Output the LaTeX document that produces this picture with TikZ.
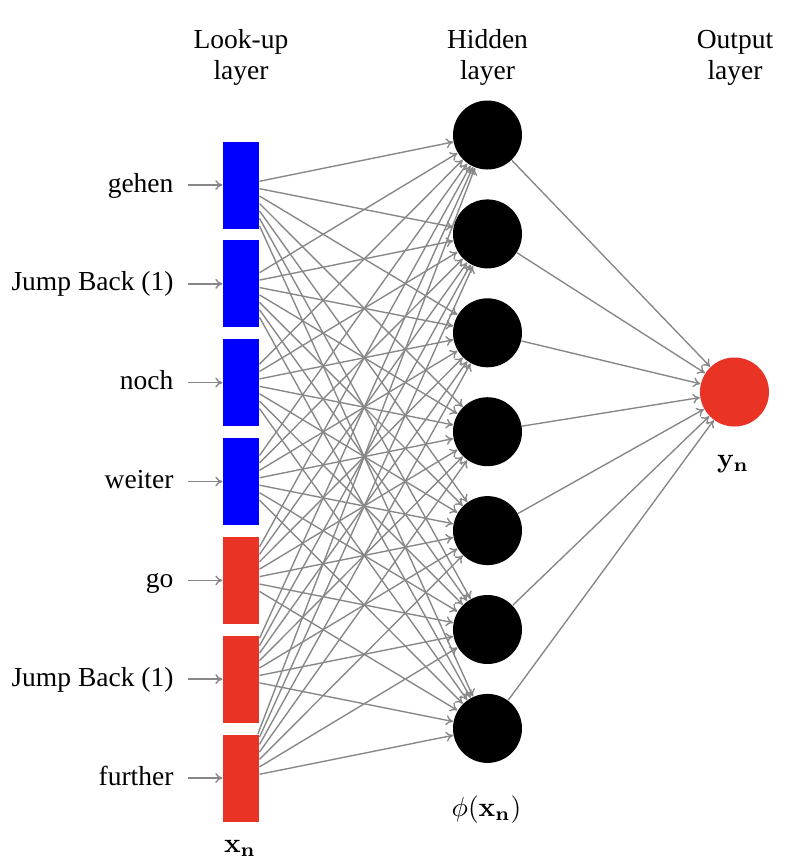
\documentclass[tikz,border=0pt]{standalone}
\usepackage[no-math]{fontspec}
\setmainfont{Liberation Serif}
\usetikzlibrary{arrows.meta}
\definecolor{myred}{RGB}{233,51,36}
\definecolor{myblue}{RGB}{0,0,255}
\definecolor{linegray}{RGB}{135,135,135}
\begin{document}
\begin{tikzpicture}[x=0.36364pt,y=-0.36364pt,
  inp/.style={rectangle,minimum width=13.09pt,minimum height=31.64pt,inner sep=0pt},
  hid/.style={circle,fill=black,minimum size=25.09pt,inner sep=0pt},
  outn/.style={circle,fill=myred,minimum size=25.09pt,inner sep=0pt},
  conn/.style={-{To[length=2.6pt,width=3.6pt]},draw=linegray,line width=0.5pt},
  lbl/.style={anchor=base east,inner sep=0pt},
  ttl/.style={anchor=base,inner sep=0pt},
  font=\fontsize{10}{12}\selectfont]
\useasboundingbox (0,0) rectangle (800,863);
% input layer
\foreach \t [count=\i] in {gehen,Jump Back (1),noch,weiter,go,Jump Back (1),further} {
  \pgfmathsetmacro\yy{185+98.833*(\i-1)}
  \ifnum\i<5 \def\col{myblue}\else\def\col{myred}\fi
  \node[inp,fill=\col] (I-\i) at (241,\yy) {};
  \coordinate (S-\i) at (188,\yy);
  \node[lbl] (L-\i) at (174,\yy+7) {\t};
  \draw[conn] (S-\i) -- (I-\i);
}
% hidden layer
\foreach \i in {1,...,7} {
  \node[hid] (H-\i) at (487.5,{135+98.9*(\i-1)}) {};
}
% output
\node[outn] (O) at (734.5,392) {};
% connections
\foreach \i in {1,...,7} {
  \foreach \j in {1,...,7} {
    \draw[conn] (I-\i) -- (H-\j);
  }
}
\foreach \j in {1,...,7} {
  \draw[conn] (H-\j) -- (O);
}
% titles
\node[ttl] (T1a) at (241,48) {Look-up};
\node[ttl] (T1b) at (241,79) {layer};
\node[ttl] (T2a) at (487.5,48) {Hidden};
\node[ttl] (T2b) at (487.5,79) {layer};
\node[ttl] (T3a) at (735,48) {Output};
\node[ttl] (T3b) at (735,79) {layer};
% math labels
\node[ttl] (XN) at (240,852) {$\mathbf{x}_\mathbf{n}$};
\node[ttl] (PHI) at (486.5,816) {$\phi(\mathbf{x}_\mathbf{n})$};
\node[ttl] (YN) at (733,467) {$\mathbf{y}_\mathbf{n}$};
\end{tikzpicture}
\end{document}
